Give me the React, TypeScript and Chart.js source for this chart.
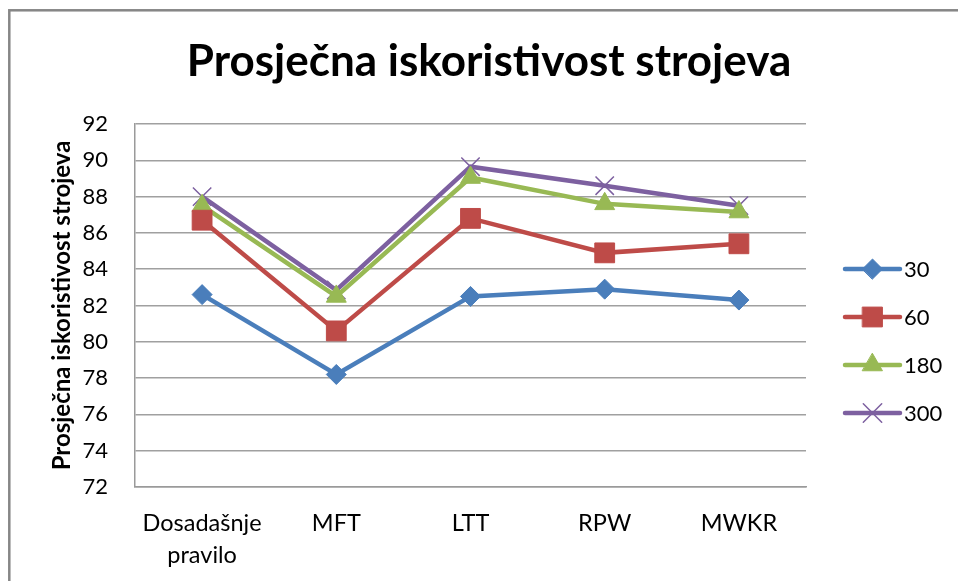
import React, { useEffect, useRef } from 'react';
import { Chart, registerables } from 'chart.js';
import { drawPoint } from 'chart.js/helpers';

Chart.register(...registerables);

const chartTitle = 'Prosječna iskoristivost strojeva';
const yAxisTitle = 'Prosječna iskoristivost strojeva';
const categories: (string | string[])[] = [['Dosadašnje', 'pravilo'], 'MFT', 'LTT', 'RPW', 'MWKR'];
const seriesNames = ['30', '60', '180', '300'];
const values30 = [82.6, 78.2, 82.5, 82.9, 82.3];
const values60 = [86.7, 80.6, 86.8, 84.9, 85.4];
const values180 = [87.5, 82.5, 89.05, 87.6, 87.15];
const values300 = [88.0, 82.85, 89.65, 88.6, 87.5];
const yMin = 72;
const yMax = 92;
const yStep = 2;

const colors = ['#4a7ebb', '#be4b48', '#98b954', '#7d60a0'];
const pointStyles = ['rectRot', 'rect', 'triangle', 'crossRot'];
const pointRadii = [10, 14, 11.5, 13];
const FONT = 'Lato, "Open Sans", sans-serif';

const framePlugin = {
  id: 'framePlugin',
  beforeDraw(chart: any) {
    const ctx = chart.ctx;
    ctx.save();
    ctx.fillStyle = '#ffffff';
    ctx.fillRect(0, 0, chart.width, chart.height);
    ctx.strokeStyle = '#868686';
    ctx.lineWidth = 2.5;
    ctx.strokeRect(9.3, 10.3, chart.width + 20, chart.height + 20);
    ctx.restore();
  },
  afterDraw(chart: any) {
    const ctx = chart.ctx;
    ctx.save();
    // title
    ctx.fillStyle = '#000000';
    ctx.font = `bold 44px ${FONT}`;
    ctx.textAlign = 'center';
    ctx.textBaseline = 'middle';
    ctx.fillText(chartTitle, 489, 62);
    // legend
    const ds = chart.data.datasets;
    const x0 = 845;
    const x1 = 900;
    const startY = 269;
    const gap = 48;
    ds.forEach((d: any, i: number) => {
      const y = startY + i * gap;
      ctx.strokeStyle = d.borderColor;
      ctx.lineWidth = 4.5;
      ctx.lineCap = 'round';
      ctx.beginPath();
      ctx.moveTo(x0, y);
      ctx.lineTo(x1, y);
      ctx.stroke();
      ctx.fillStyle = d.pointBackgroundColor;
      ctx.strokeStyle = d.pointBorderColor;
      ctx.lineWidth = d.pointBorderWidth;
      drawPoint(ctx, { pointStyle: d.pointStyle, rotation: 0, borderWidth: d.pointBorderWidth, radius: d.pointRadius }, (x0 + x1) / 2, y);
      ctx.fillStyle = '#000000';
      ctx.font = `22px ${FONT}`;
      ctx.textAlign = 'left';
      ctx.textBaseline = 'middle';
      ctx.fillText(d.label, 904, y + 1);
    });
    ctx.restore();
  },
};

export default function App() {
  const ref = useRef<HTMLCanvasElement | null>(null);
  useEffect(() => {
    document.body.style.margin = '0';
    const canvas = ref.current!;
    const seriesValues = [values30, values60, values180, values300];
    const chart = new Chart(canvas, {
      type: 'line',
      data: {
        labels: categories,
        datasets: seriesNames.map((name, i) => ({
          label: name,
          data: seriesValues[i],
          borderColor: colors[i],
          backgroundColor: colors[i],
          borderWidth: 4.5,
          pointStyle: pointStyles[i] as any,
          pointRadius: pointRadii[i],
          pointBackgroundColor: colors[i],
          pointBorderColor: colors[i],
          pointBorderWidth: i === 3 ? 1.5 : 1,
          tension: 0,
        })),
      },
      options: {
        responsive: false,
        animation: false,
        layout: { padding: { top: 124, right: 152, bottom: 0, left: 40 } },
        plugins: {
          legend: { display: false },
          title: { display: false },
          tooltip: { enabled: false },
        },
        scales: {
          x: {
            offset: true,
            grid: { display: false, drawTicks: false },
            border: { color: '#9a9a9a', width: 1.5 },
            ticks: {
              color: '#000000',
              font: { family: FONT, size: 23.5, lineHeight: 1.34 },
              padding: 21,
              maxRotation: 0,
              autoSkip: false,
            },
            afterFit(scale: any) {
              scale.height = 94;
            },
          },
          y: {
            min: yMin,
            max: yMax,
            grid: { color: '#a0a0a0', lineWidth: 1.5, drawTicks: false },
            border: { color: '#9a9a9a', width: 1.5 },
            ticks: {
              stepSize: yStep,
              color: '#000000',
              font: { family: FONT, size: 22 },
              padding: 27,
            },
            title: {
              display: true,
              text: yAxisTitle,
              color: '#000000',
              font: { family: FONT, size: 24, weight: 'bold' },
              padding: { top: 8, bottom: 0 },
            },
            afterFit(scale: any) {
              scale.width = 95;
            },
          },
        },
      },
      plugins: [framePlugin],
    });
    return () => chart.destroy();
  }, []);
  return <canvas ref={ref} width={958} height={581} style={{ display: 'block', width: 958, height: 581 }} />;
}
